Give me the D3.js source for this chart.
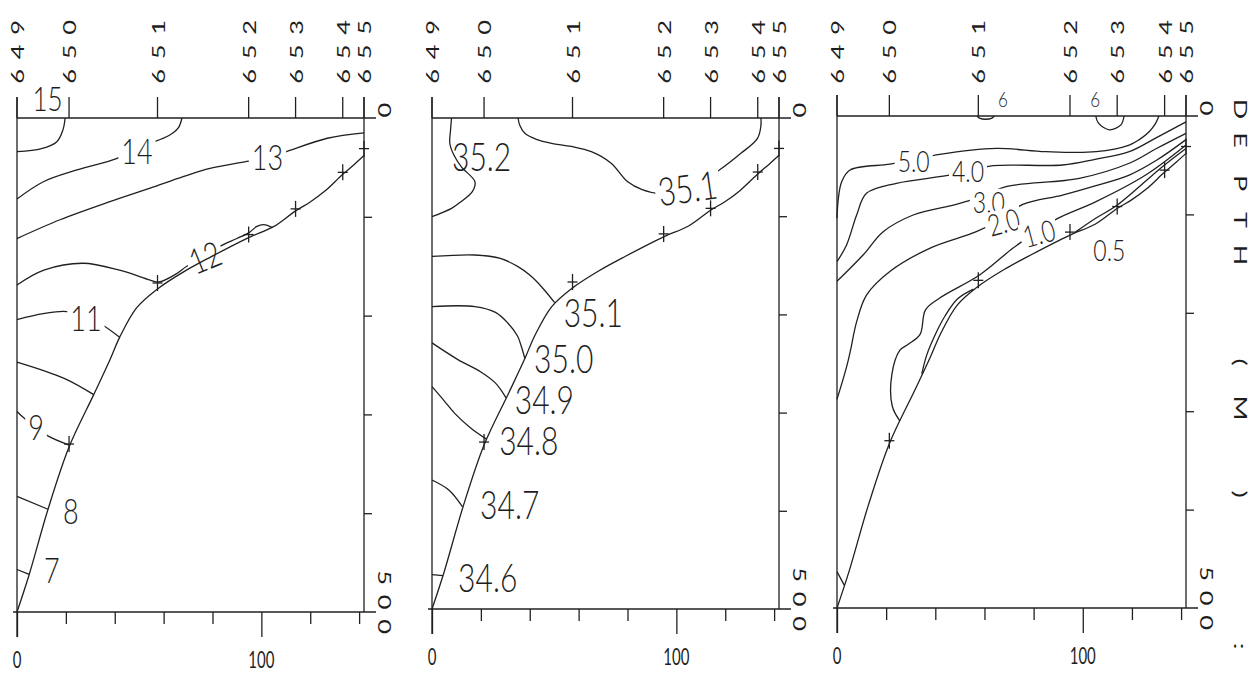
<!DOCTYPE html>
<html><head><meta charset="utf-8">
<script src="https://cdn.jsdelivr.net/npm/d3@7"></script>
<style>
html,body{margin:0;padding:0;background:#fff;}
svg{display:block;}
text{font-family:Lato,"Open Sans","DejaVu Sans",sans-serif;font-weight:300;fill:#1e1e1e;}
text.plot{font-weight:400;}
</style></head><body>
<svg id="chart" width="1258" height="675"></svg>
<script>
// ---------- data ----------
const stations = ["649","650","651","652","653","654","655"];
const stationKm = [0, 21.3, 57.5, 94.8, 114, 133.3, 142];
const stationDepth = [500, 330, 167, 118, 92, 55, 31];
const distanceTicks = [0,20,40,60,80,100,120,140];
const distanceLabels = [0,100];
const depthTicks = [100,200,300,400];
const depthLabels = [0,500];
const depthTitle = ["D","E","P","T","H","(","M",")",":"];
const bottomProfile = [[0,500],[5,462],[12.7,396],[21.3,333],[31.4,280],[38,245],[42,222],[49,192],[57.5,173],[68,156],[79,141],[94.8,121],[105,110],[114,94],[120,85],[126,74],[133.3,57],[138,47],[142,38]];

// temperature section
const temp15 = [[19.7,0],[18.8,12],[16.3,24],[10,31],[0,34]];
const temp14 = [[67.5,0],[66,10],[62,18],[54.5,25.6],[49,31],[41,40.8],[24.5,52.6],[10.8,64.5],[0,82]];
const temp13 = [[142,15],[127,20.5],[109,35],[102,40],[94,44],[79,51],[68,59.4],[54.5,71],[38,84.7],[17.6,103],[0,122]];
const temp12 = [[0,169],[11,154],[27,147],[42,154],[54.5,164],[58,166],[65,158],[69.5,150],[77,141],[83,130],[90,122],[95,116],[98,110],[101,108],[104.5,111]];
const temp11 = [[0,204],[10.8,198],[20.4,196],[28,202],[34,208],[42,222]];
const temp10 = [[0,247],[19.3,263.5],[31.4,280]];
const temp9 = [[0,297],[3,304],[7.8,313],[12.8,322],[21.3,331]];
const temp8 = [[0,383],[12.7,396]];
const temp7 = [[0,457],[5,462]];
const tempLabels = [["15",12.5,-19.7,0,false],["14",49.1,33.9,0,true],["13",102.5,40,0,true],["12",76.9,141.2,-22,true],["11",28.2,203,0,true],["9",7.8,313,0,true],["8",22,398,0,false],["7",14.3,457.5,0,false]];

// salinity section
const sal352 = [[8,0],[7.6,12],[7.3,26],[9,38],[12.1,50],[17.6,65],[16.5,75],[12,85],[8,92],[0,100.5]];
const sal351a = [[35.2,0],[36,8],[38,15.6],[43,22],[48.9,25.8],[57,29],[65.2,34.3],[73.3,46],[80.1,65],[86,73],[92.4,76.7],[104,73],[117.6,53],[126.4,36],[133.2,20.7],[134.6,8],[134.6,0]];
const sal351b = [[0,141],[17.6,139.5],[28,143],[35.2,151.4],[40,160],[44.8,171.8],[50.2,188]];
const sal350 = [[0,192],[17.6,192],[26,198],[31.1,209],[35,222],[36.6,233],[38,245]];
const sal349 = [[0,229],[10.6,246],[20,258.6],[26,270],[30.3,285]];
const sal348 = [[0,273.6],[5,288],[9.2,300.5],[15.8,315.6],[22.3,327]];
const sal347 = [[0,368.6],[7,379],[12.5,396]];
const sal346 = [[0,465],[4.5,466]];
const salLabels = [["35.2",20.3,40,0,false],["35.1",104.6,71.6,-8,true],["35.1",66,198.5,0,false],["35.0",53.9,245,0,false],["34.9",46,287,0,false],["34.8",39.6,329,0,false],["34.7",31.8,394,0,false],["34.6",22.8,468,0,false]];

// third section
const ox6a = [[57,0],[58.2,2.5],[60.5,3.3],[62.8,2.5],[64,0]];
const ox6b = [[105.3,0],[106.3,7],[110.8,14],[115.5,9],[116.8,0]];
const ox50 = [[131,0],[129.5,8],[127,16],[123,24],[118.9,29.5],[105.4,36.3],[85,36.3],[64.8,32.9],[41.8,39],[31,44.7],[21.5,49],[5.3,54.9],[1.9,66.8],[0.5,85],[0,104]];
const ox40 = [[142,6],[130,22],[118.9,36.3],[105,44],[91.8,49.8],[63.4,50.5],[54,56],[44.5,60.7],[24.2,68.4],[12,78.6],[8,100.6],[3.9,131],[0,148]];
const ox30 = [[142,17.6],[130,33],[118.9,48],[98.6,63.3],[68.8,71.8],[59,82],[48.5,89.8],[31,100.6],[18.8,117.6],[10.7,141],[0,168]];
const ox20 = [[142,24],[130,45],[118.9,60],[105,71],[91.8,80.3],[75.6,89.8],[66,106],[56.7,117.6],[37.7,134.5],[21.5,158],[12,182],[8,209],[5.5,238],[3.9,255],[0,288]];
const ox10 = [[142,29.5],[125.6,60],[105.4,87],[89.8,104],[82,116],[71.5,134.5],[58,161.6],[41.8,185],[36,197],[33.8,222],[29,232],[25.6,238],[22.3,263],[22.5,295],[25.6,310]];
const ox05 = [[142,33],[132.4,51.5],[114.1,90.4],[105.4,103.7],[97,118]];
const ox05b = [[55.5,176],[49,186],[44,203],[40,222],[36.5,243],[34.5,262]];
const oxDeep = [[0,463],[3,477]];
const oxLabels = [["6",67.5,-16.8,0,false],["6",105,-16.8,0,false],["5.0",31.2,46,0,true],["4.0",53.3,56.5,0,true],["3.0",61.8,87.5,0,true],["2.0",67.8,108,-15,true],["1.0",82.2,119.4,-15,true],["0.5",110.8,136,0,false]];

const maxKm = 142, maxDepth = 500;

// ---------- layout ----------
const panels = [
  {x0:17, x1:364, top:118, bottom:612, font:27, outsideFont:26,
   contours:[temp15,temp14,temp13,temp12,temp11,temp10,temp9,temp8,temp7], labels:tempLabels},
  {x0:432, x1:779, top:118, bottom:609, font:30, outsideFont:30,
   contours:[sal352,sal351a,sal351b,sal350,sal349,sal348,sal347,sal346], labels:salLabels},
  {x0:837, x1:1186, top:116, bottom:608, font:23, outsideFont:17,
   contours:[ox6a,ox6b,ox50,ox40,ox30,ox20,ox10,ox05,ox05b,oxDeep], labels:oxLabels}
];
const INK = "#202020", SW = 1.3, STRETCH = 1.5, HAND = 1.3;
const svg = d3.select("#chart");
svg.append("rect").attr("width",1258).attr("height",675).attr("fill","#fff");

function hline(g,x1,x2,y){g.append("line").attr("x1",x1).attr("x2",x2).attr("y1",y).attr("y2",y).attr("stroke",INK).attr("stroke-width",SW);}
function vline(g,x,y1,y2){g.append("line").attr("x1",x).attr("x2",x).attr("y1",y1).attr("y2",y2).attr("stroke",INK).attr("stroke-width",SW);}
function plotText(g,str,x,y,rot,size,ls){
  return g.append("text").attr("class","plot").attr("transform",`translate(${x},${y}) scale(1,${STRETCH}) rotate(${rot})`)
    .attr("text-anchor","middle").attr("dy","0.36em").style("font-size",size+"px")
    .style("letter-spacing",(ls||0)+"px").text(str);
}

panels.forEach(p => {
  const x = d3.scaleLinear().domain([0,maxKm]).range([p.x0,p.x1]);
  const y = d3.scaleLinear().domain([0,maxDepth]).range([p.top,p.bottom]);
  const line = d3.line().x(d=>x(d[0])).y(d=>y(d[1])).curve(d3.curveCatmullRom.alpha(0.5));
  const g = svg.append("g");

  g.selectAll("path.contour").data(p.contours).join("path").attr("class","contour")
    .attr("d",line).attr("fill","none").attr("stroke",INK).attr("stroke-width",SW);

  const lab = g.selectAll("g.lab").data(p.labels).join("g").attr("class","lab")
    .attr("transform",d=>`translate(${x(d[1])},${y(d[2])}) rotate(${d[3]}) scale(1,${HAND})`);
  lab.each(function(d){
    const gg = d3.select(this);
    const t = gg.append("text").attr("text-anchor","middle").attr("dy","0.36em")
      .style("font-size",(d[2]<0?p.outsideFont:p.font)+"px").text(d[0]);
    if (d[4]) {
      const b = t.node().getBBox();
      gg.insert("rect","text").attr("x",b.x-3).attr("y",b.y+b.height*0.14).attr("width",b.width+6)
        .attr("height",b.height*0.72).attr("fill","#fff");
    }
  });

  // sea bottom
  g.append("path").attr("d",line(bottomProfile)).attr("fill","none").attr("stroke",INK).attr("stroke-width",SW);

  // frame
  hline(g,p.x0,p.x1+12,p.top);
  hline(g,p.x0-4,p.x1+12,p.bottom);
  vline(g,p.x0,p.top-21,p.bottom+25);
  vline(g,p.x1,p.top-21,p.bottom);
  stations.forEach((s,i)=>vline(g,x(stationKm[i]),p.top-21,p.top));

  // station labels
  stations.forEach((s,i)=>plotText(g,s,x(stationKm[i])+1,47,-90,17,6.5));

  // sample marks at bottom of each station
  stations.forEach((s,i)=>{ if(i===0) return;
    const cx=x(stationKm[i]), cy=y(stationDepth[i]);
    hline(g,cx-5,cx+5,cy); vline(g,cx,cy-8,cy+8);
  });

  // distance axis
  const ax = g.append("g").attr("transform",`translate(0,${p.bottom})`)
    .call(d3.axisBottom(x).tickValues(distanceTicks).tickSize(12).tickFormat(""));
  ax.select(".domain").remove();
  ax.selectAll(".tick line").attr("y2",d=>distanceLabels.includes(d)?25:12).attr("stroke",INK).attr("stroke-width",SW);
  distanceLabels.forEach(v=>plotText(g,String(v),x(v),p.bottom+48,0,15,0));

  // depth axis
  const ay = g.append("g").attr("transform",`translate(${p.x1},0)`)
    .call(d3.axisRight(y).tickValues(depthTicks).tickSize(8).tickFormat(""));
  ay.select(".domain").remove();
  ay.selectAll(".tick line").attr("stroke",INK).attr("stroke-width",SW);
  depthLabels.forEach(v=>plotText(g,String(v),p.x1+20,y(v)-(v?5:3),90,17,6.5));
});

// depth title
const titleY = [109,140,183,220,255,362,408,494,646];
depthTitle.forEach((c,i)=>plotText(svg,c,1240,titleY[i],90,18,0));
</script>
</body></html>
